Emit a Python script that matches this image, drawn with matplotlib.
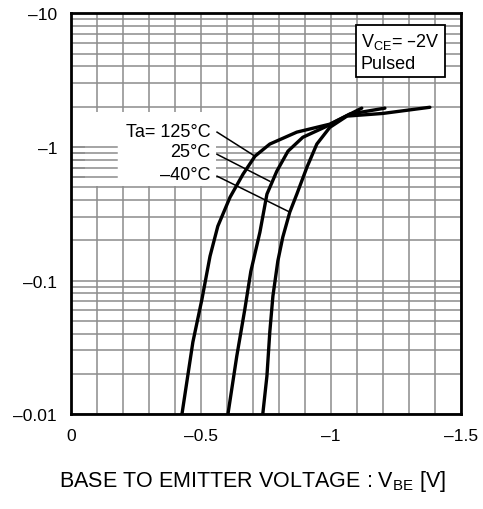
import numpy as np
import matplotlib
matplotlib.use("Agg")
import matplotlib.pyplot as plt
from matplotlib.patches import Rectangle

plt.rcParams['font.family'] = ['Liberation Sans', 'DejaVu Sans']
plt.rcParams['mathtext.default'] = 'regular'

# VBE [V] / IC [A]
vbe_125 = [-0.427, -0.469, -0.504, -0.535, -0.565, -0.612, -0.662, -0.708, -0.765, -0.869, -0.996, -1.119]
ic_125 = [-0.01, -0.0346, -0.0726, -0.152, -0.255, -0.42, -0.625, -0.852, -1.05, -1.29, -1.48, -1.95]

vbe_25 = [-0.604, -0.638, -0.669, -0.692, -0.727, -0.754, -0.792, -0.835, -0.892, -0.985, -1.073, -1.208]
ic_25 = [-0.01, -0.0272, -0.061, -0.117, -0.23, -0.443, -0.658, -0.929, -1.18, -1.43, -1.76, -1.95]

vbe_m40 = [-0.738, -0.754, -0.765, -0.777, -0.796, -0.815, -0.842, -0.869, -0.908, -0.946, -0.996, -1.062, -1.2, -1.381]
ic_m40 = [-0.01, -0.0193, -0.0411, -0.0764, -0.140, -0.211, -0.325, -0.443, -0.705, -1.05, -1.40, -1.70, -1.78, -1.98]

curves = [(vbe_125, ic_125), (vbe_25, ic_25), (vbe_m40, ic_m40)]

labels = ["Ta= 125°C", "25°C", "–40°C"]
label_ic = [-1.31, -0.93, -0.625]
# leader lines: (label end) -> (point on curve)
leader_v = [(-0.562, -0.708), (-0.562, -0.765), (-0.562, -0.842)]
leader_i = [(-1.29, -0.852), (-0.88, -0.553), (-0.604, -0.325)]

xticks = [0, -0.5, -1, -1.5]
xticklabels = ["0", "–0.5", "–1", "–1.5"]
yticks = [0.01, 0.1, 1, 10]
yticklabels = ["–0.01", "–0.1", "–1", "–10"]

fig = plt.figure(figsize=(4.83, 5.10), dpi=100, facecolor='white')
ax = fig.add_axes([0.147, 0.186, 0.807, 0.786])

gridkw = dict(color='#8c8c8c', linewidth=1.1)

ax.set_yscale('log')
ax.set_xlim(0, -1.5)
ax.set_ylim(0.01, 10)

ax.set_xticks(xticks)
ax.set_xticklabels(xticklabels)
ax.set_xticks(np.arange(0, -1.51, -0.1), minor=True)
ax.set_yticks(yticks)
ax.set_yticklabels(yticklabels)
ax.tick_params(which='both', length=0, labelsize=12.5, pad=10)
ax.grid(True, which='both', zorder=0, **gridkw)
ax.set_axisbelow(True)

for sp in ax.spines.values():
    sp.set_linewidth(2)

# white patch behind the temperature labels
ax.add_patch(Rectangle((0.036, 0.569), 0.336, 0.184, transform=ax.transAxes,
                       facecolor='white', edgecolor='none', zorder=1))
for lvl in [1.0, 0.9, 0.8, 0.7, 0.6]:
    ax.plot([0, -0.177], [lvl, lvl], zorder=1.5, **gridkw)

for v, i in curves:
    ax.plot(v, -np.array(i), color='black', linewidth=2.4, zorder=3,
            solid_capstyle='round', solid_joinstyle='round')

for lab, yi, lv, li in zip(labels, label_ic, leader_v, leader_i):
    ax.text(-0.536, -yi, lab, ha='right', va='center', fontsize=13, zorder=4)
    ax.plot(lv, -np.array(li), color='black', linewidth=1.1, zorder=3)

ax.text(0.744, 0.955, "V$_{CE}$= –2V\nPulsed", transform=ax.transAxes,
        ha='left', va='top', fontsize=13, linespacing=1.25, zorder=5,
        bbox=dict(boxstyle='square,pad=0.3', facecolor='white',
                  edgecolor='black', linewidth=1.3))

fig.text(252 / 483, 1 - 482 / 510, "BASE TO EMITTER VOLTAGE : V$_{BE}$ [V]",
         ha='center', va='center', fontsize=15.5)

fig.savefig("out.png", dpi=100)
